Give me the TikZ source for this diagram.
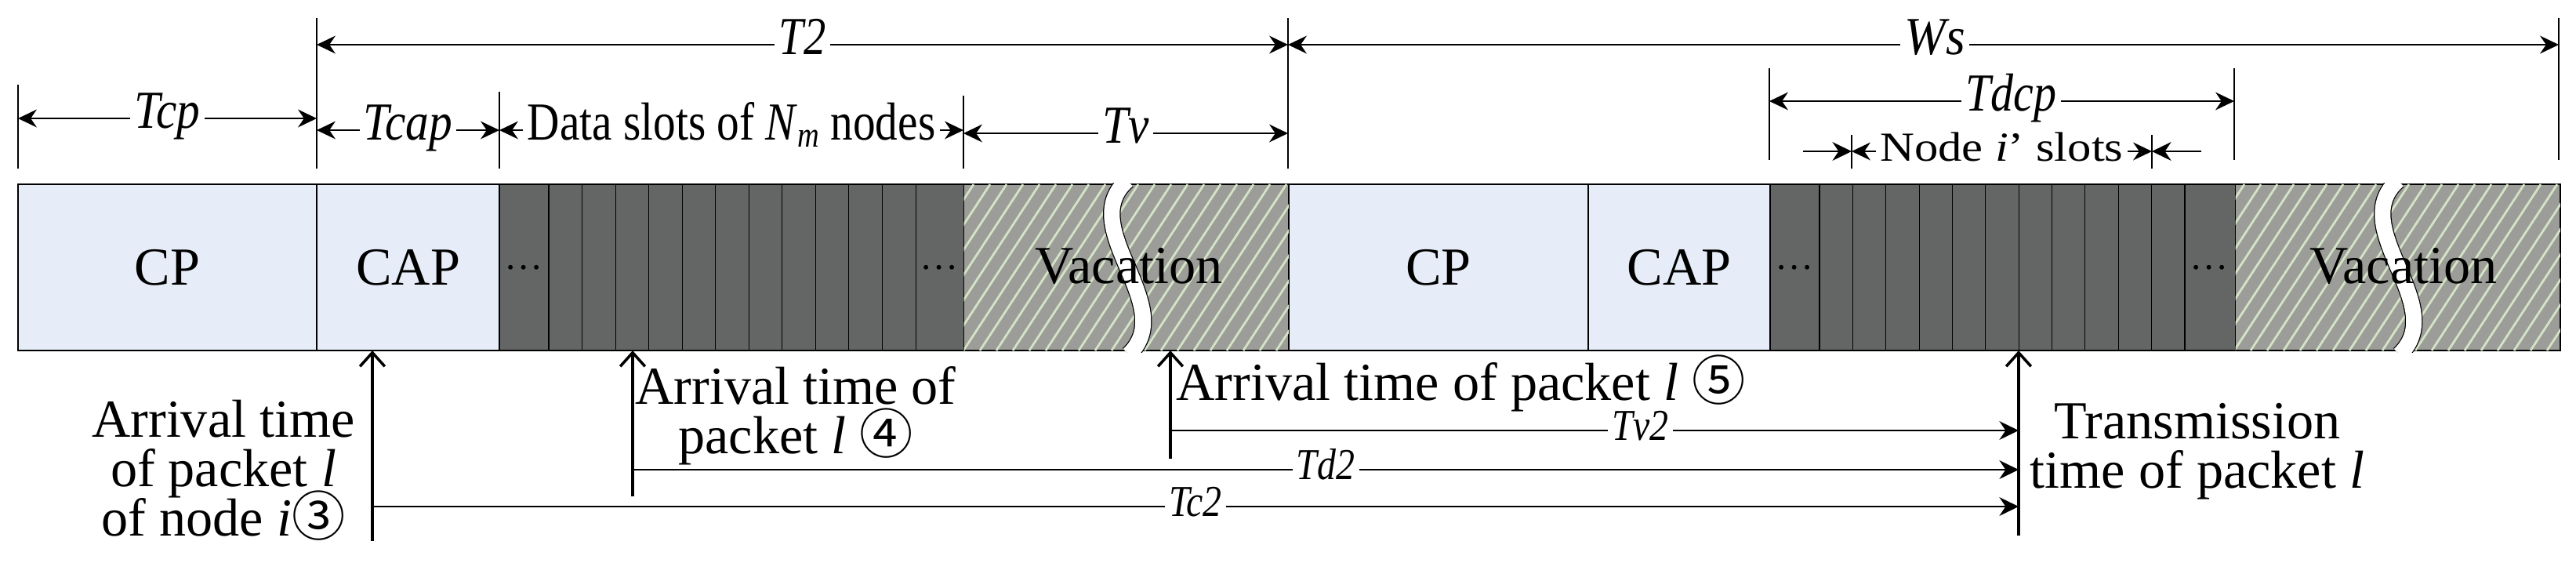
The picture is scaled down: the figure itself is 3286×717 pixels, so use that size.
\documentclass[tikz,border=0pt]{standalone}
\usepackage{fontspec}
\setmainfont{Liberation Serif}
\newfontfamily\circfont{Noto Sans CJK SC}
\usepackage{graphicx}
\usetikzlibrary{arrows.meta, positioning, calc}

\definecolor{cpblue}{RGB}{230,237,248}
\definecolor{slotgray}{RGB}{100,102,101}
\definecolor{vacgray}{RGB}{156,157,152}
\definecolor{vacstripe}{RGB}{212,226,198}

\newcommand{\bigtxt}{\fontsize{19.4}{17.8}\selectfont\lineskiplimit=-30pt}
\newcommand{\smalltxt}{\fontsize{16}{16}\selectfont}
\newcommand{\nar}[2][0.87]{\scalebox{#1}[1]{#2}}

\tikzset{
    seg/.style={
        draw=black,
        line width=0.5pt, % 外框
        minimum height=2.12cm,
        inner sep=0,
        outer sep=0,
        font=\bigtxt
    },
    slotline/.style={black, line width=0.3pt},
    stripe/.style={vacstripe, line width=0.8pt},
    gap/.style={
        draw=black,
        line width=0.35pt,
        double=white,
        double distance=0.2cm
    },
    tick/.style={black, line width=0.3pt},
    dim/.style={
        line width=0.45pt,
        {Stealth[length=6.8pt,width=6.5pt]}-{Stealth[length=6.8pt,width=6.5pt]}
    },
    dimlbl/.style={
        fill=white,
        inner sep=1.5pt,
        text height=1.5ex,
        text depth=0pt,
        font=\bigtxt\itshape
    },
    uparrow/.style={line width=1.05pt, -{Straight Barb[length=5pt,width=9pt,line width=1pt]}},
    meas/.style={line width=0.4pt, -{Stealth[length=7pt,width=6.8pt]}},
    measlbl/.style={
        fill=white,
        inner sep=1.5pt,
        text height=1.5ex,
        text depth=0pt,
        font=\smalltxt\itshape
    },
    txt/.style={font=\bigtxt, inner sep=0},
    dots/.style={font=\fontsize{14}{14}\selectfont, inner sep=0, anchor=base}
}

\begin{document}
\begin{tikzpicture}[x=0.01cm, y=-0.01cm]
    \useasboundingbox (0,0) rectangle (3286,717);

    % 时隙条
    \node[seg, fill=cpblue, minimum width=3.81cm] (cp1) at (213.5,341) {CP};
    \node[seg, fill=cpblue, minimum width=2.33cm, right=0pt of cp1] (cap1) {CAP};
    \node[seg, fill=slotgray, minimum width=5.92cm, right=0pt of cap1] (ds1) {};
    \node[seg, fill=vacgray, minimum width=4.14cm, right=0pt of ds1] (vac1) {};
    \node[seg, fill=cpblue, minimum width=3.82cm, right=0pt of vac1] (cp2) {CP};
    \node[seg, fill=cpblue, minimum width=2.32cm, right=0pt of cp2] (cap2) {CAP};
    \node[seg, fill=slotgray, minimum width=5.93cm, right=0pt of cap2] (ds2) {};
    \node[seg, fill=vacgray, minimum width=4.14cm, right=0pt of ds2] (vac2) {};

    \foreach \i in {0,...,11} {
        \draw[slotline] (700+\i*42.55,235) -- (700+\i*42.55,447);
        \draw[slotline] (2321+\i*42.36,235) -- (2321+\i*42.36,447);
    }
    \node[dots] at (668,343) {\dots};
    \node[dots] at (1198,343) {\dots};
    \node[dots] at (2289,343) {\dots};
    \node[dots] at (2818,343) {\dots};

    % 休假期
    \foreach \v/\x in {vac1/1229, vac2/2850} {
        \begin{scope}
            \clip (\v.north west) rectangle (\v.south east);
            \foreach \k in {-7,...,20}
                \draw[stripe] (\x+\k*21,447) -- ++(139,-212);
        \end{scope}
        \begin{scope}
            \clip (\x,233) rectangle (\x+416,449);
            \draw[gap] (\x+209,230) .. controls (\x+141,290) and (\x+276,390) .. (\x+211,452);
        \end{scope}
    }
    \node[txt] (vt1) at (1440,339) {Vacation};
    \node[txt] (vt2) at (3066,339) {Vacation};

    % 标注线
    \foreach \x/\a/\b in {23/108/215, 404/23/215, 637/117/215, 1229/122/215, 1643/23/215,
                          2257/87/204, 2850/87/204, 3264/23/204, 2362/172/215, 2745/172/215}
        \draw[tick] (\x,\a) -- (\x,\b);

    \coordinate (T2a) at (404,57);
    \coordinate (T2b) at (1643,57);
    \coordinate (Wsb) at (3264,57);
    \coordinate (Tcpa) at (23,151);
    \coordinate (Tcpb) at (404,151);
    \coordinate (Tcapa) at (404,166);
    \coordinate (Tcapb) at (637,166);
    \coordinate (Datab) at (1229,166);
    \coordinate (Tva) at (1229,170);
    \coordinate (Tvb) at (1643,170);
    \coordinate (Tdcpa) at (2257,129);
    \coordinate (Tdcpb) at (2850,129);
    \coordinate (Nia) at (2362,193);
    \coordinate (Nib) at (2745,193);
    \coordinate (Nil) at (2300,193);
    \coordinate (Nir) at (2808,193);

    \draw[dim] (T2a) -- node[dimlbl] {\nar[0.83]{T2}} (T2b);
    \draw[dim] (T2b) -- node[dimlbl, pos=0.509] {\nar[0.93]{Ws}} (Wsb);
    \draw[dim] (Tcpa) -- node[dimlbl] {\nar{Tcp}} (Tcpb);
    \draw[dim] (Tcapa) -- node[dimlbl] {\nar{Tcap}} (Tcapb);
    \draw[dim] (Tcapb) -- node[dimlbl, font=\bigtxt] {\nar[0.84]{Data slots of \textit{N}\raisebox{-0.3ex}{\fontsize{13}{13}\selectfont\textit{m}} nodes}} (Datab);
    \draw[dim] (Tva) -- node[dimlbl] {\nar{Tv}} (Tvb);
    \draw[dim] (Tdcpa) -- node[dimlbl, pos=0.52] {\nar[0.85]{Tdcp}} (Tdcpb);
    \draw[dim] (Nia) -- node[dimlbl, font=\fontsize{15}{15}\selectfont] {\nar[1.15]{Node \textit{i}’ slots}} (Nib);
    \draw[meas] (Nil) -- (Nia);
    \draw[meas] (Nir) -- (Nib);

    % 到达与传输时刻
    \coordinate (a3) at (475,690);
    \coordinate (a4) at (807,633);
    \coordinate (a5) at (1493,585);
    \coordinate (tx) at (2575,683);
    \draw[uparrow] (a3) -- (a3 |- cp1.south);
    \draw[uparrow] (a4) -- (a4 |- cp1.south);
    \draw[uparrow] (a5) -- (a5 |- cp1.south);
    \draw[uparrow] (tx) -- (tx |- cp1.south);

    \coordinate (c2) at (475,646);
    \coordinate (d2) at (807,599);
    \coordinate (v2) at (1493,549);
    \draw[meas] (c2) -- node[measlbl] {\nar[0.85]{Tc2}} (c2 -| tx);
    \draw[meas] (d2) -- node[measlbl] {\nar[0.85]{Td2}} (d2 -| tx);
    \draw[meas] (v2) -- node[measlbl, pos=0.554] {\nar[0.85]{Tv2}} (v2 -| tx);

    \node[txt, align=center, anchor=base] (lab3) at (285,683)
        {Arrival time\\of packet \textit{l}\\of node \textit{i}{\circfont ③}};
    \node[txt, align=center, anchor=base] (lab4) at (1015,578)
        {Arrival time of\\packet \textit{l} {\circfont ④}};
    \node[txt, anchor=base west] (lab5) at (1500,510)
        {Arrival time of packet \textit{l} {\circfont ⑤}};
    \node[txt, align=center, anchor=base] (labT) at (2803,622)
        {Transmission\\time of packet \textit{l}};
\end{tikzpicture}
\end{document}
